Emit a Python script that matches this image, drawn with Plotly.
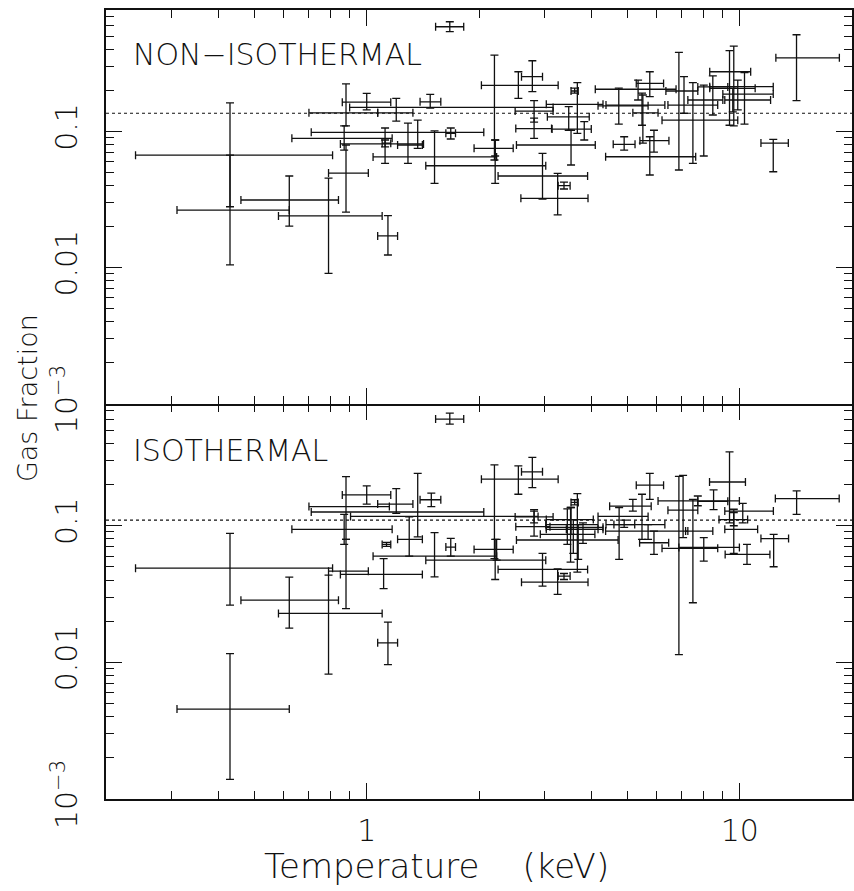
import math
import plotly.graph_objects as go

# ---------------- data ----------------
# NON-ISOTHERMAL panel: temperature (keV) with lower/upper limits, gas fraction with lower/upper limits
non_T = [0.43, 0.43, 0.62, 0.79, 0.88, 0.88, 1.00, 1.20, 1.48, 0.87, 1.12, 1.12, 1.29, 1.37, 1.68,
         1.52, 2.21, 2.21, 2.20, 2.55, 2.78, 1.67, 1.14, 2.81, 2.81, 2.96, 3.25, 3.38, 3.61, 3.67,
         3.48, 3.53, 3.83, 4.74, 5.34, 5.47, 5.50, 4.90, 5.89, 5.74, 5.74, 6.87, 7.09, 7.49, 8.01,
         8.47, 9.64, 9.39, 10.3, 9.88, 9.58, 12.3, 14.2]
non_T_lo = [0.24, 0.31, 0.46, 0.58, 0.79, 0.70, 0.86, 1.07, 1.39, 0.63, 0.85, 1.10, 1.21, 0.71, 1.63,
            1.04, 1.44, 1.94, 0.90, 2.03, 2.60, 1.53, 1.07, 2.50, 2.51, 2.25, 2.59, 3.26, 3.53, 3.03,
            3.05, 2.52, 3.14, 4.17, 4.10, 4.38, 5.17, 4.58, 5.40, 4.37, 5.28, 6.19, 6.34, 6.42, 7.26,
            7.72, 8.31, 8.31, 8.31, 9.01, 9.12, 11.4, 12.5]
non_T_hi = [0.81, 0.62, 0.84, 1.10, 1.01, 1.07, 1.16, 1.33, 1.58, 1.17, 1.42, 1.16, 1.41, 2.06, 1.73,
            2.23, 3.02, 2.47, 3.16, 3.26, 2.96, 1.82, 1.21, 3.16, 3.13, 3.91, 3.92, 3.51, 3.69, 4.30,
            3.95, 4.10, 4.00, 5.68, 6.75, 6.30, 6.04, 5.24, 6.46, 7.62, 6.25, 9.88, 7.72, 8.73, 9.01,
            9.29, 10.7, 11.0, 12.3, 12.3, 12.1, 13.5, 18.5]
non_f = [0.067, 0.0265, 0.0314, 0.024, 0.0495, 0.137, 0.164, 0.137, 0.165, 0.089, 0.081, 0.082, 0.0795,
         0.0985, 0.0968, 0.065, 0.056, 0.0752, 0.150, 0.218, 0.252, 0.586, 0.0171, 0.141, 0.105, 0.0471,
         0.0323, 0.040, 0.198, 0.158, 0.128, 0.0795, 0.104, 0.154, 0.204, 0.156, 0.137, 0.0804, 0.0855,
         0.0652, 0.225, 0.121, 0.198, 0.156, 0.170, 0.212, 0.274, 0.207, 0.213, 0.188, 0.170, 0.0822, 0.347]
non_f_lo = [0.028, 0.0105, 0.0202, 0.0091, 0.0256, 0.110, 0.144, 0.119, 0.148, 0.073, 0.0583, 0.0769,
            0.0583, 0.0752, 0.088, 0.0416, 0.0416, 0.066, 0.0617, 0.175, 0.196, 0.539, 0.0124, 0.117,
            0.089, 0.0319, 0.0244, 0.0378, 0.191, 0.0968, 0.102, 0.0567, 0.0865, 0.113, 0.170, 0.111,
            0.0822, 0.073, 0.0706, 0.0479, 0.180, 0.0521, 0.136, 0.0583, 0.066, 0.132, 0.110, 0.111,
            0.113, 0.144, 0.139, 0.0506, 0.168]
non_f_hi = [0.162, 0.0671, 0.0471, 0.0455, 0.0795, 0.223, 0.190, 0.175, 0.187, 0.110, 0.106, 0.0865,
            0.115, 0.121, 0.106, 0.101, 0.0865, 0.0865, 0.363, 0.274, 0.330, 0.638, 0.0241, 0.168,
            0.125, 0.0691, 0.0492, 0.0425, 0.208, 0.228, 0.152, 0.102, 0.118, 0.208, 0.238, 0.191,
            0.185, 0.0914, 0.102, 0.0914, 0.274, 0.380, 0.252, 0.228, 0.219, 0.256, 0.423, 0.391,
            0.270, 0.238, 0.208, 0.0875, 0.512]

# ISOTHERMAL panel
iso_T = [0.43, 0.43, 0.62, 0.79, 1.00, 1.20, 1.49, 1.37, 1.30, 0.88, 0.88, 1.13, 0.87, 1.11, 1.52,
         1.68, 1.14, 1.67, 2.55, 2.78, 2.20, 2.23, 2.21, 2.96, 3.25, 3.38, 2.81, 2.81, 3.61, 3.67,
         3.52, 3.45, 3.69, 3.58, 3.80, 5.74, 6.87, 7.05, 9.39, 8.51, 7.49, 8.01, 10.46, 12.33, 9.64,
         14.21, 10.19, 4.75, 5.17, 4.90, 5.47, 5.89, 5.68, 3.53, 7.72, 9.64]
iso_T_lo = [0.24, 0.31, 0.46, 0.58, 0.86, 1.07, 1.39, 0.71, 1.21, 0.70, 0.79, 1.10, 0.63, 0.85, 1.04,
            1.63, 1.07, 1.53, 2.03, 2.60, 0.905, 1.94, 1.44, 2.25, 2.60, 3.26, 2.51, 2.50, 3.53, 3.03,
            3.02, 3.03, 2.52, 2.92, 3.43, 5.28, 6.19, 6.42, 8.30, 7.72, 7.16, 6.87, 9.14, 11.40, 9.12,
            12.46, 9.12, 4.17, 4.48, 4.60, 4.38, 5.39, 4.37, 3.03, 6.04, 8.80]
iso_T_hi = [0.81, 0.62, 0.84, 1.10, 1.16, 1.33, 1.58, 2.06, 1.41, 1.15, 1.01, 1.16, 1.17, 1.41, 2.23,
            1.73, 1.21, 1.82, 3.26, 2.96, 2.88, 2.47, 3.02, 3.91, 3.92, 3.51, 3.10, 3.16, 3.69, 4.30,
            4.17, 4.30, 4.72, 4.09, 4.17, 6.25, 8.73, 7.72, 10.36, 9.29, 8.47, 9.98, 12.05, 13.52, 11.17,
            18.48, 12.31, 5.68, 5.79, 5.23, 6.30, 6.45, 7.26, 4.05, 9.98, 10.5]
iso_f = [0.0489, 0.00455, 0.0285, 0.0228, 0.168, 0.144, 0.155, 0.126, 0.0795, 0.138, 0.0465, 0.073,
         0.0941, 0.044, 0.0599, 0.0698, 0.0139, 0.603, 0.219, 0.248, 0.117, 0.0671, 0.056, 0.0479,
         0.0386, 0.0428, 0.0985, 0.116, 0.148, 0.0941, 0.102, 0.0973, 0.0786, 0.0865, 0.0941, 0.198,
         0.0683, 0.13, 0.209, 0.151, 0.0914, 0.0694, 0.0617, 0.0806, 0.0941, 0.158, 0.128, 0.117,
         0.139, 0.102, 0.102, 0.0751, 0.0914, 0.111, 0.152, 0.111]
iso_f_lo = [0.0262, 0.00139, 0.0178, 0.0082, 0.144, 0.123, 0.138, 0.083, 0.0599, 0.0795, 0.0247,
            0.0707, 0.073, 0.0346, 0.0423, 0.0599, 0.00962, 0.555, 0.170, 0.190, 0.0574, 0.056,
            0.0404, 0.0361, 0.0314, 0.0404, 0.084, 0.105, 0.142, 0.0457, 0.0542, 0.073, 0.0567,
            0.0627, 0.0743, 0.156, 0.0114, 0.0818, 0.105, 0.131, 0.0273, 0.0551, 0.0521, 0.0501,
            0.0627, 0.121, 0.105, 0.0567, 0.128, 0.0973, 0.0795, 0.0617, 0.0795, 0.0865, 0.14, 0.10]
iso_f_hi = [0.0879, 0.0116, 0.042, 0.0435, 0.196, 0.187, 0.173, 0.242, 0.116, 0.229, 0.0795, 0.0755,
            0.121, 0.0574, 0.089, 0.0809, 0.0197, 0.668, 0.274, 0.316, 0.279, 0.0795, 0.0795, 0.0627,
            0.0484, 0.0447, 0.128, 0.131, 0.155, 0.172, 0.136, 0.133, 0.102, 0.111, 0.105, 0.242,
            0.230, 0.234, 0.347, 0.183, 0.156, 0.0818, 0.073, 0.0865, 0.132, 0.180, 0.146, 0.136,
            0.156, 0.110, 0.170, 0.0914, 0.102, 0.136, 0.165, 0.125]

# mean gas fraction (dotted lines)
non_mean = 0.136
iso_mean = 0.110

# axis extents and tick labels
T_range = [0.2, 20]
f_range = [0.001, 0.778]
x_tickvals = [1, 10]
x_ticktext = ["1", "10"]
y_tickvals = [0.001, 0.01, 0.1]
y_ticktext = ["10<sup>\u22123</sup>", "0.01", "0.1"]
minor_x = [0.3, 0.4, 0.5, 0.6, 0.7, 0.8, 0.9, 2, 3, 4, 5, 6, 7, 8, 9]
minor_y = [0.002, 0.003, 0.004, 0.005, 0.006, 0.007, 0.008, 0.009,
           0.02, 0.03, 0.04, 0.05, 0.06, 0.07, 0.08, 0.09,
           0.2, 0.3, 0.4, 0.5, 0.6, 0.7]

# ---------------- figure ----------------
FONT = "DejaVu Sans Light, DejaVu Sans, sans-serif"
INK = "#111111"

def errs(c, lo, hi):
    return [h - v for v, h in zip(c, hi)], [v - l for v, l in zip(c, lo)]

fig = go.Figure()

panels = [
    (non_T, non_T_lo, non_T_hi, non_f, non_f_lo, non_f_hi, non_mean, "x2", "y2"),
    (iso_T, iso_T_lo, iso_T_hi, iso_f, iso_f_lo, iso_f_hi, iso_mean, "x", "y"),
]
for T, Tlo, Thi, f, flo, fhi, mean, xa, ya in panels:
    fig.add_trace(go.Scatter(
        x=T_range, y=[mean, mean], mode="lines", xaxis=xa, yaxis=ya,
        line=dict(color=INK, width=1.1, dash="dot"), showlegend=False, hoverinfo="skip"))
    ex, exm = errs(T, Tlo, Thi)
    ey, eym = errs(f, flo, fhi)
    fig.add_trace(go.Scatter(
        x=T, y=f, mode="markers", xaxis=xa, yaxis=ya,
        marker=dict(size=2, color=INK, opacity=0),
        error_x=dict(type="data", symmetric=False, array=ex, arrayminus=exm,
                     color=INK, thickness=1.3, width=4),
        error_y=dict(type="data", symmetric=False, array=ey, arrayminus=eym,
                     color=INK, thickness=1.3, width=4),
        showlegend=False, hoverinfo="skip"))

# empty traces so that the tick-only frame axes (top / right sides) are drawn
for xa, ya in [("x3", "y"), ("x4", "y2"), ("x", "y3"), ("x2", "y4")]:
    fig.add_trace(go.Scatter(x=[], y=[], xaxis=xa, yaxis=ya, showlegend=False, hoverinfo="skip"))

xr = [math.log10(T_range[0]), math.log10(T_range[1])]
yr = [math.log10(f_range[0]), math.log10(f_range[1])]

def xax(**kw):
    d = dict(type="log", range=xr, showgrid=False, zeroline=False,
             linecolor=INK, linewidth=1.5, ticks="inside",
             ticklen=16, tickwidth=1.3, tickcolor=INK, automargin=False,
             tickvals=x_tickvals, ticktext=x_ticktext, ticklabelstandoff=4,
             minor=dict(ticks="inside", ticklen=8, tickwidth=1.3, tickcolor=INK,
                        tickvals=minor_x, showgrid=False),
             tickfont=dict(family=FONT, size=30, color=INK))
    d.update(kw)
    return d

def yax(**kw):
    d = dict(type="log", range=yr, showgrid=False, zeroline=False,
             linecolor=INK, linewidth=1.5, ticks="inside",
             ticklen=16, tickwidth=1.3, tickcolor=INK, automargin=False,
             tickvals=y_tickvals, ticktext=y_ticktext, tickangle=-90, ticklabelstandoff=15,
             minor=dict(ticks="inside", ticklen=8, tickwidth=1.3, tickcolor=INK,
                        tickvals=minor_y, showgrid=False),
             tickfont=dict(family=FONT, size=30, color=INK))
    d.update(kw)
    return d

split = 395 / 789
fig.update_layout(
    width=854, height=891,
    margin=dict(l=106, r=2, t=10, b=92, autoexpand=False),
    paper_bgcolor="white", plot_bgcolor="white",
    xaxis=xax(domain=[0, 1], anchor="y", side="bottom", showline=True),
    xaxis2=xax(domain=[0, 1], anchor="y2", side="bottom", showline=True, showticklabels=False),
    xaxis3=xax(overlaying="x", anchor="y", side="top", showline=False, showticklabels=False),
    xaxis4=xax(overlaying="x2", anchor="y2", side="top", showline=True, showticklabels=False),
    yaxis=yax(domain=[0, split], anchor="x", side="left", showline=True),
    yaxis2=yax(domain=[split, 1], anchor="x2", side="left", showline=True),
    yaxis3=yax(overlaying="y", anchor="x", side="right", showline=True, showticklabels=False),
    yaxis4=yax(overlaying="y2", anchor="x2", side="right", showline=True, showticklabels=False),
    annotations=[
        dict(text="NON\u2212ISOTHERMAL", xref="paper", yref="paper", x=0.034, y=0.944,
             xanchor="left", yanchor="middle", showarrow=False,
             font=dict(family=FONT, size=30, color=INK)),
        dict(text="ISOTHERMAL", xref="paper", yref="paper", x=0.034, y=0.442,
             xanchor="left", yanchor="middle", showarrow=False,
             font=dict(family=FONT, size=30, color=INK)),
        dict(text="Gas Fraction", xref="paper", yref="paper", x=-0.106, y=0.508,
             xanchor="center", yanchor="middle", textangle=-90, showarrow=False,
             font=dict(family=FONT, size=27, color=INK)),
        dict(text="Temperature\u00a0\u00a0\u00a0\u00a0(keV)", xref="paper", yref="paper",
             x=0.4425, y=-0.0855, xanchor="center", yanchor="middle", showarrow=False,
             font=dict(family=FONT, size=34, color=INK)),
    ],
)

fig.write_html("out.html", config={"displayModeBar": False},
               post_script="document.body.style.margin='0px';")
